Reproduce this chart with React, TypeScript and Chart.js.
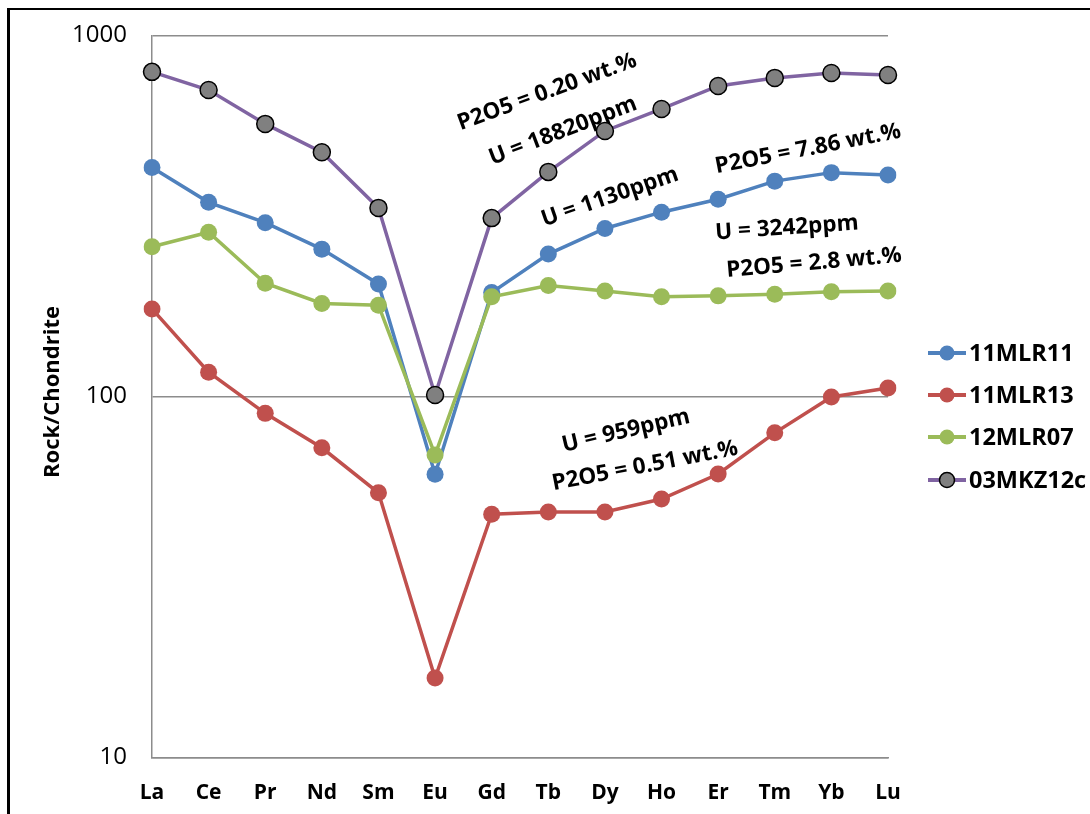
import React, { useEffect, useRef } from "react";
import { Chart, registerables } from "chart.js";

Chart.register(...registerables);

const elements = ["La", "Ce", "Pr", "Nd", "Sm", "Eu", "Gd", "Tb", "Dy", "Ho", "Er", "Tm", "Yb", "Lu"];
const s11MLR11 = [431, 345, 303, 256, 205, 60.9, 194, 248, 292, 324, 352, 395, 417, 411];
const s11MLR13 = [174.8, 116.8, 89.8, 72.1, 54.1, 16.6, 47.2, 47.9, 47.9, 52.0, 61.0, 79.3, 99.7, 105.6];
const s12MLR07 = [260, 285, 206, 181, 179, 68.9, 189, 203, 196, 189, 190, 192, 195, 196];
const s03MKZ12c = [793, 706, 569, 475, 333, 101, 312, 419, 544, 626, 725, 763, 787, 777];
const yTicks = [10, 100, 1000];
const seriesNames = ["11MLR11", "11MLR13", "12MLR07", "03MKZ12c"];

const annotations = [
  { text: "P2O5 = 0.20 wt.%", x: 547, y: 92, angle: -20 },
  { text: "U = 18820ppm", x: 563, y: 131, angle: -21 },
  { text: "U = 1130ppm", x: 610, y: 197, angle: -19 },
  { text: "P2O5 = 7.86 wt.%", x: 808, y: 149, angle: -11 },
  { text: "U = 3242ppm", x: 787, y: 228, angle: -4 },
  { text: "P2O5 = 2.8 wt.%", x: 814, y: 263, angle: -5 },
  { text: "U = 959ppm", x: 626, y: 431, angle: -13 },
  { text: "P2O5 = 0.51 wt.%", x: 645, y: 466, angle: -11 },
];

const FONT = '"Open Sans", "DejaVu Sans", sans-serif';

export default function App() {
  const ref = useRef<HTMLCanvasElement | null>(null);

  useEffect(() => {
    if (!ref.current) return;
    const styles = [
      { line: "#4F81BD", fill: "#4F81BD", border: "#4F81BD", bw: 0 },
      { line: "#C0504D", fill: "#C0504D", border: "#C0504D", bw: 0 },
      { line: "#9BBB59", fill: "#9BBB59", border: "#9BBB59", bw: 0 },
      { line: "#8064A2", fill: "#808080", border: "#000000", bw: 1.5 },
    ];
    const values = [s11MLR11, s11MLR13, s12MLR07, s03MKZ12c];

    const overlay = {
      id: "overlay",
      beforeDatasetsDraw(chart: any) {
        const ctx = chart.ctx;
        ctx.save();
        ctx.fillStyle = "#000";
        ctx.font = `bold 22.5px ${FONT}`;
        ctx.textAlign = "center";
        ctx.textBaseline = "middle";
        for (const a of annotations) {
          ctx.save();
          ctx.translate(a.x, a.y);
          ctx.rotate((a.angle * Math.PI) / 180);
          ctx.fillText(a.text, 0, 0);
          ctx.restore();
        }
        ctx.restore();
      },
      afterDraw(chart: any) {
        const ctx = chart.ctx;
        ctx.save();
        ctx.fillStyle = "#000";
        ctx.font = `bold 22px ${FONT}`;
        ctx.textAlign = "center";
        ctx.textBaseline = "middle";
        ctx.translate(53, 392);
        ctx.rotate(-Math.PI / 2);
        ctx.fillText("Rock/Chondrite", 0, 0);
        ctx.restore();

        ctx.save();
        const rows = [353, 395, 437, 480];
        seriesNames.forEach((name, i) => {
          const y = rows[i];
          const st = styles[i];
          ctx.strokeStyle = st.line;
          ctx.lineWidth = 4;
          ctx.beginPath();
          ctx.moveTo(928, y);
          ctx.lineTo(966, y);
          ctx.stroke();
          ctx.beginPath();
          ctx.arc(947, y, 7.5, 0, Math.PI * 2);
          ctx.fillStyle = st.fill;
          ctx.fill();
          if (st.bw > 0) {
            ctx.lineWidth = st.bw;
            ctx.strokeStyle = st.border;
            ctx.stroke();
          }
          ctx.fillStyle = "#000";
          ctx.font = `bold 23.5px ${FONT}`;
          ctx.textAlign = "left";
          ctx.textBaseline = "middle";
          ctx.fillText(name, 969, y + 1);
        });
        ctx.restore();
      },
    };

    const chart = new Chart(ref.current, {
      type: "line",
      data: {
        labels: elements,
        datasets: seriesNames.map((name, i) => ({
          label: name,
          data: values[i],
          borderColor: styles[i].line,
          backgroundColor: styles[i].fill,
          borderWidth: 3.5,
          tension: 0,
          pointRadius: 8.5,
          pointHoverRadius: 8.5,
          pointBackgroundColor: styles[i].fill,
          pointBorderColor: styles[i].border,
          pointBorderWidth: styles[i].bw,
          order: seriesNames.length - i,
          fill: false,
        })),
      },
      options: {
        animation: false,
        responsive: false,
        devicePixelRatio: 1,
        layout: { padding: { left: 0, top: 35.5, right: 202, bottom: 0 } },
        plugins: { legend: { display: false }, tooltip: { enabled: false } },
        scales: {
          x: {
            type: "category",
            offset: false,
            grid: { display: false, drawTicks: false },
            border: { display: true, color: "#8c8c8c", width: 1.5 },
            ticks: {
              font: { family: FONT, size: 21, weight: "bold" },
              color: "#000",
              padding: 23,
              autoSkip: false,
              maxRotation: 0,
            },
            afterFit: (s: any) => {
              s.height = 56.5;
            },
          },
          y: {
            type: "logarithmic",
            min: 10,
            max: 1000,
            afterBuildTicks: (s: any) => {
              s.ticks = yTicks.map((v) => ({ value: v }));
            },
            grid: { color: "#8c8c8c", lineWidth: 1.5, drawTicks: false },
            border: { display: true, color: "#8c8c8c", width: 1.5 },
            ticks: {
              callback: (v: any) => String(v),
              font: { family: FONT, size: 24 },
              color: "#000",
              padding: 25,
            },
            afterFit: (s: any) => {
              s.width = 152;
              s.paddingTop = 0;
              s.paddingBottom = 0;
            },
          },
        },
      },
      plugins: [overlay],
    });
    return () => chart.destroy();
  }, []);

  return (
    <>
      <canvas
        ref={ref}
        width={1090}
        height={814}
        style={{ position: "fixed", left: 0, top: 0, width: 1090, height: 814, background: "#fff" }}
      />
      <div
        style={{
          position: "fixed",
          left: 7,
          top: 8,
          width: 1083,
          height: 806,
          boxSizing: "border-box",
          borderLeft: "3px solid #000",
          borderTop: "2.5px solid #000",
          pointerEvents: "none",
        }}
      />
    </>
  );
}
